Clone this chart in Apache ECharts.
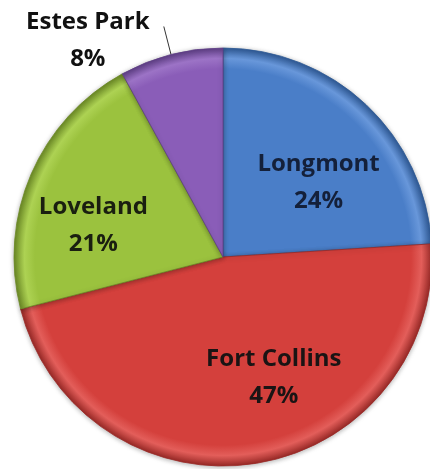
<!DOCTYPE html>
<html>
<head>
<meta charset="utf-8">
<script src="https://cdn.jsdelivr.net/npm/echarts@6/dist/echarts.min.js"></script>
<style>
  html, body { margin: 0; padding: 0; background: #fff; }
  #chart { width: 430px; height: 469px; }
</style>
</head>
<body>
<div id="chart"></div>
<script>
// slice data (percent of total)
const cities = ["Longmont", "Fort Collins", "Loveland", "Estes Park"];
const shares = [24, 47, 21, 8];

// styling per slice
const baseColors = ["#4a7ec8", "#d4403c", "#9bc23e", "#8a5db8"];
const rimColors = ["#6897da", "#e35e5a", "#add253", "#9c73c6"];
const edgeColors = ["#2f5a96", "#9a2a27", "#6c8a26", "#5f3f86"];
const labelColors = ["#14203a", "#1a1414", "#1a1f10", "#111111"];
const labelShift = [[22, 4], [34, 14], [-31, 11], [-71, 14]];

const center = [223, 257];
const radius = 209;

const chart = echarts.init(document.getElementById("chart"));

const pieData = cities.map((name, i) => ({
  name: name,
  value: shares[i],
  itemStyle: {
    color: {
      type: "radial",
      x: center[0],
      y: center[1],
      r: radius,
      global: true,
      colorStops: [
        { offset: 0, color: baseColors[i] },
        { offset: 0.9, color: baseColors[i] },
        { offset: 0.95, color: rimColors[i] },
        { offset: 1, color: edgeColors[i] }
      ]
    },
    borderColor: edgeColors[i],
    borderWidth: 0.8
  },
  label: {
    color: labelColors[i],
    position: i === 3 ? "outside" : "inside"
  },
  labelLine: { show: i === 3 }
}));

chart.setOption({
  animation: false,
  series: [
    {
      type: "pie",
      center: center,
      radius: radius,
      startAngle: 90,
      clockwise: true,
      data: pieData,
      label: {
        formatter: "{b}\n{d}%",
        fontFamily: "Open Sans",
        fontWeight: "bold",
        fontSize: 24,
        lineHeight: 37,
        align: "center"
      },
      labelLine: {
        length: 29,
        length2: 0,
        lineStyle: { color: "#333", width: 1 }
      },
      labelLayout: params => ({
        dx: labelShift[params.dataIndex][0],
        dy: labelShift[params.dataIndex][1],
        align: "center"
      }),
      itemStyle: {
        shadowBlur: 5,
        shadowColor: "rgba(0,0,0,0.3)",
        shadowOffsetY: 1
      },
      emphasis: { disabled: true }
    }
  ]
});
</script>
</body>
</html>
